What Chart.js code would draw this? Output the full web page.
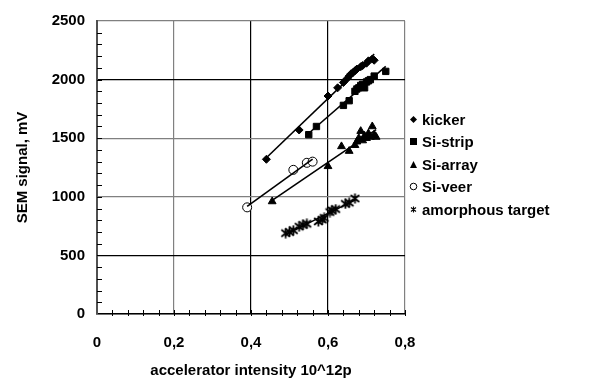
<!DOCTYPE html>
<html>
<head>
<meta charset="utf-8">
<script src="https://cdn.jsdelivr.net/npm/chart.js@4.4.0/dist/chart.umd.min.js"></script>
<style>
  html, body { margin: 0; padding: 0; background: #ffffff; }
  #wrap { position: relative; width: 592px; height: 384px; }
  #chart { position: absolute; left: 0; top: 0; }
  #legend {
    position: absolute;
    left: 408px;
    top: 108px;
    font: bold 15px "Liberation Sans", Arial, sans-serif;
    color: #000;
  }
  .legend-item { display: flex; align-items: center; height: 22.5px; }
  .legend-marker { width: 11px; height: 11px; margin-right: 3px; }
</style>
</head>
<body>
<div id="wrap">
  <canvas id="chart" width="592" height="384"></canvas>
  <div id="legend"></div>
</div>
<script>
const FONT = '"Liberation Sans", Arial, sans-serif';

// values
const kickerX = [0.44, 0.525, 0.60, 0.625, 0.64, 0.65, 0.655, 0.66, 0.665, 0.67, 0.675, 0.685, 0.69, 0.70, 0.705, 0.715, 0.72];
const kickerY = [1320, 1570, 1860, 1930, 1975, 2010, 2030, 2050, 2060, 2075, 2090, 2110, 2120, 2140, 2160, 2175, 2165];

const stripX = [0.55, 0.57, 0.64, 0.655, 0.67, 0.675, 0.68, 0.685, 0.69, 0.695, 0.70, 0.705, 0.71, 0.72, 0.75];
const stripY = [1530, 1600, 1780, 1820, 1900, 1920, 1930, 1950, 1960, 1930, 1980, 1990, 2000, 2030, 2070];

const arrayX = [0.455, 0.60, 0.635, 0.655, 0.67, 0.675, 0.68, 0.685, 0.69, 0.695, 0.70, 0.705, 0.71, 0.715, 0.72, 0.725];
const arrayY = [960, 1260, 1430, 1390, 1440, 1470, 1500, 1560, 1480, 1520, 1500, 1540, 1510, 1600, 1530, 1510];

const veerX = [0.39, 0.51, 0.545, 0.56];
const veerY = [910, 1230, 1290, 1300];

const amorphX = [0.49, 0.50, 0.51, 0.525, 0.535, 0.545, 0.575, 0.585, 0.59, 0.605, 0.61, 0.62, 0.645, 0.655, 0.67];
const amorphY = [690, 700, 715, 745, 760, 770, 790, 805, 820, 870, 885, 895, 940, 950, 985];

const xTicks = [0, 0.2, 0.4, 0.6, 0.8];
const yTicks = [0, 500, 1000, 1500, 2000, 2500];

const SERIES = ["kicker", "Si-strip", "Si-array", "Si-veer", "amorphous target"];

const toPoints = (xs, ys) => xs.map((x, i) => ({ x: x, y: ys[i] }));

// least squares line across the range of the series
const trendLine = (xs, ys) => {
  const n = xs.length;
  const mx = xs.reduce((a, b) => a + b, 0) / n;
  const my = ys.reduce((a, b) => a + b, 0) / n;
  let sxy = 0, sxx = 0;
  xs.forEach((x, i) => {
    sxy += (x - mx) * (ys[i] - my);
    sxx += (x - mx) * (x - mx);
  });
  const b = sxy / sxx;
  const a = my - b * mx;
  const lo = Math.min(...xs), hi = Math.max(...xs);
  return [{ x: lo, y: a + b * lo }, { x: hi, y: a + b * hi }];
};

// asterisk marker (x with a vertical bar)
const makeStar = (size, lw) => {
  const c = document.createElement("canvas");
  c.width = size; c.height = size;
  const g = c.getContext("2d");
  const m = size / 2, r = size / 2 - 0.5;
  g.strokeStyle = "#000";
  g.lineWidth = lw;
  g.beginPath();
  g.moveTo(m - r * 0.85, m - r * 0.7); g.lineTo(m + r * 0.85, m + r * 0.7);
  g.moveTo(m + r * 0.85, m - r * 0.7); g.lineTo(m - r * 0.85, m + r * 0.7);
  g.moveTo(m, m - r); g.lineTo(m, m + r);
  g.stroke();
  return c;
};

const starMark = makeStar(11, 1.8);

const scatterSet = (label, xs, ys, style, radius, fill) => ({
  label: label,
  data: toPoints(xs, ys),
  pointStyle: style,
  pointRadius: radius,
  pointHoverRadius: radius,
  pointBackgroundColor: fill,
  pointBorderColor: "#000000",
  pointBorderWidth: 1,
  showLine: false,
  order: 2,
});

const lineSet = (xs, ys) => ({
  label: "fit",
  data: trendLine(xs, ys),
  showLine: true,
  borderColor: "#000000",
  borderWidth: 1.6,
  pointRadius: 0,
  order: 1,
});

const gridColor = (major) => (ctx) => {
  const v = ctx.tick.value;
  return major.includes(v) ? "#000000" : "#808080";
};

// small inside ticks like the original axes
const minorTicks = {
  id: "minorTicks",
  afterDraw(chart) {
    const { ctx, scales } = chart;
    const xs = scales.x, ys = scales.y;
    ctx.save();
    ctx.strokeStyle = "#000000";
    ctx.lineWidth = 1;
    ctx.beginPath();
    for (let v = 100; v < 2500; v += 100) {
      const py = Math.round(ys.getPixelForValue(v)) + 0.5;
      ctx.moveTo(xs.left, py);
      ctx.lineTo(xs.left + 5, py);
    }
    for (let i = 1; i <= 20; i++) {
      const px = Math.round(xs.getPixelForValue(i * 0.04)) + 0.5;
      ctx.moveTo(px, ys.bottom - 4);
      ctx.lineTo(px, ys.bottom + 2);
    }
    ctx.stroke();
    ctx.restore();
  },
};

const canvas = document.getElementById("chart");

new Chart(canvas, {
  type: "scatter",
  data: {
    datasets: [
      scatterSet(SERIES[0], kickerX, kickerY, "rectRot", 4, "#000000"),
      scatterSet(SERIES[1], stripX, stripY, "rect", 4.5, "#000000"),
      scatterSet(SERIES[2], arrayX, arrayY, "triangle", 4.5, "#000000"),
      scatterSet(SERIES[3], veerX, veerY, "circle", 4.5, "#ffffff"),
      scatterSet(SERIES[4], amorphX, amorphY, starMark, 5, "#000000"),
      lineSet(kickerX, kickerY),
      lineSet(stripX, stripY),
      lineSet(arrayX, arrayY),
      lineSet(veerX, veerY),
      lineSet(amorphX, amorphY),
    ],
  },
  options: {
    responsive: false,
    animation: false,
    layout: { padding: { top: 16, right: 187, bottom: 0, left: 0 } },
    plugins: {
      legend: { display: false },
      tooltip: { enabled: false },
    },
    scales: {
      x: {
        type: "linear",
        min: 0,
        max: 0.8,
        afterBuildTicks: (scale) => {
          scale.ticks = xTicks.map((v) => ({ value: v }));
        },
        afterFit: (scale) => { scale.height = 70; },
        ticks: {
          color: "#000000",
          font: { family: FONT, size: 15, weight: "bold" },
          padding: 20,
          callback: (v) => (v === 0 ? "0" : Number(v).toFixed(1).replace(".", ",")),
        },
        grid: { color: gridColor([0.4, 0.6]), lineWidth: 1.2, drawTicks: false },
        border: { color: "#000000", width: 1.5 },
        title: {
          display: true,
          text: "accelerator intensity 10^12p",
          color: "#000000",
          font: { family: FONT, size: 15, weight: "bold" },
          padding: { top: 6, bottom: 4 },
        },
      },
      y: {
        type: "linear",
        min: 0,
        max: 2500,
        afterBuildTicks: (scale) => {
          scale.ticks = yTicks.map((v) => ({ value: v }));
        },
        afterFit: (scale) => { scale.width = 97; },
        ticks: {
          color: "#000000",
          font: { family: FONT, size: 15, weight: "bold" },
          padding: 12,
          callback: (v) => String(v),
        },
        grid: { color: gridColor([500, 2000]), lineWidth: 1.2, drawTicks: false },
        border: { color: "#505050", width: 2 },
        title: {
          display: true,
          text: "SEM signal, mV",
          color: "#000000",
          font: { family: FONT, size: 15, weight: "bold" },
          padding: { top: 14, bottom: 4 },
        },
      },
    },
  },
  plugins: [minorTicks],
});

// legend markers drawn as small svg shapes
const MARKERS = [
  '<svg class="legend-marker" viewBox="0 0 11 11"><polygon points="5.5,2 9,5.5 5.5,9 2,5.5" fill="#000"/></svg>',
  '<svg class="legend-marker" viewBox="0 0 11 11"><rect x="2" y="2" width="7" height="7" fill="#000"/></svg>',
  '<svg class="legend-marker" viewBox="0 0 11 11"><polygon points="5.5,2 9,9 2,9" fill="#000"/></svg>',
  '<svg class="legend-marker" viewBox="0 0 11 11"><circle cx="5.5" cy="5.5" r="3.3" fill="#fff" stroke="#000" stroke-width="1"/></svg>',
  '<svg class="legend-marker" viewBox="0 0 11 11"><path d="M3,3.5 L8,7.5 M8,3.5 L3,7.5 M5.5,2.5 L5.5,8.5" stroke="#000" stroke-width="1.1"/></svg>',
];

const legendContainer = document.getElementById("legend");
legendContainer.innerHTML = SERIES.map((name, i) => `
  <div class="legend-item">${MARKERS[i]}<span>${name}</span></div>
`).join("");
</script>
</body>
</html>
